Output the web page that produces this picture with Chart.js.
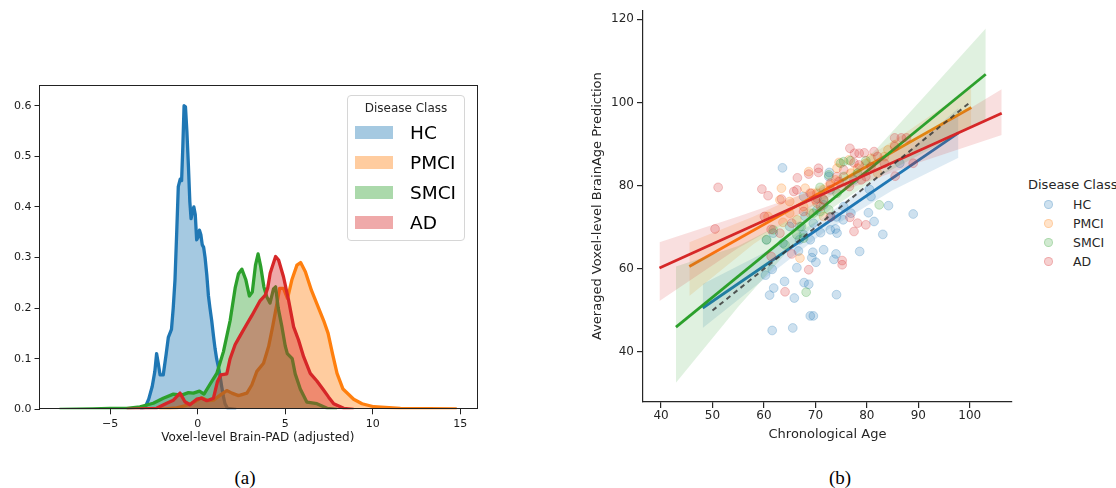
<!DOCTYPE html>
<html>
<head>
<meta charset="utf-8">
<script src="https://cdn.jsdelivr.net/npm/chart.js@4.4.1/dist/chart.umd.min.js"></script>
<style>
  body { margin: 0; background: #fff; }
  #page { position: relative; width: 1116px; height: 488px; overflow: hidden; background: #fff; font-family: 'DejaVu Sans', sans-serif; }
  canvas { position: absolute; }
  #kdeCanvas { left: 0; top: 0; }
  #ageCanvas { left: 580px; top: 0; }
  .caption { position: absolute; top: 467px; line-height: 22px; font-family: 'Liberation Serif', serif; font-size: 19px; color: #000; transform: translateX(-50%); }
  #kdeLegend { position: absolute; left: 347px; top: 95px; width: 118px; height: 146px; border: 1px solid #d6d6d6; border-radius: 4px; background: rgba(255,255,255,0.8); box-sizing: border-box; }
  #kdeLegend .title { position: absolute; left: 0; width: 100%; top: 4px; text-align: center; font-size: 12px; line-height: 16px; color: #262626; }
  #kdeLegend .row { position: absolute; left: 7px; height: 30px; line-height: 30px; font-size: 18.5px; color: #000; }
  #kdeLegend .patch { position: absolute; left: 0; top: 8px; width: 38px; height: 13px; }
  #kdeLegend .label { position: absolute; left: 55px; white-space: nowrap; }
  #ageLegend { position: absolute; left: 1028px; top: 176px; width: 100px; }
  #ageLegend .title { font-size: 13px; line-height: 18px; color: #262626; white-space: nowrap; }
  #ageLegend .row { position: absolute; left: 0; height: 19px; line-height: 19px; font-size: 12.5px; color: #262626; }
  #ageLegend .dot { position: absolute; left: 16px; top: 5px; width: 9px; height: 9px; border-radius: 50%; box-sizing: border-box; }
  #ageLegend .label { position: absolute; left: 45px; white-space: nowrap; }
</style>
</head>
<body>
<div id="page">
  <canvas id="kdeCanvas" width="490" height="449"></canvas>
  <canvas id="ageCanvas" width="440" height="446"></canvas>
  <div id="kdeLegend"><div class="title">Disease Class</div></div>
  <div id="ageLegend"><div class="title">Disease Class</div></div>
  <div class="caption" style="left:245px">(a)</div>
  <div class="caption" style="left:840px">(b)</div>
</div>
<script>
// classes and colours
const classNames = ['HC', 'PMCI', 'SMCI', 'AD'];
const classColors = ['#1f77b4', '#ff7f0e', '#2ca02c', '#d62728'];

// (a) density curves, [brain-PAD, density]
const hcCurve = [[-3.3,0],[-3.0,0.004],[-2.8,0.02],[-2.6,0.045],[-2.45,0.075],[-2.35,0.11],[-2.25,0.09],[-2.15,0.068],
  [-1.97,0.068],[-1.8,0.11],[-1.68,0.142],[-1.5,0.158],[-1.4,0.2],[-1.3,0.255],[-1.2,0.35],[-1.11,0.44],[-1.0,0.455],
  [-0.92,0.452],[-0.85,0.52],[-0.78,0.6],[-0.7,0.598],[-0.62,0.55],[-0.53,0.48],[-0.45,0.41],[-0.38,0.377],[-0.3,0.39],
  [-0.22,0.4],[-0.14,0.385],[-0.06,0.335],[0.02,0.34],[0.1,0.354],[0.18,0.345],[0.26,0.325],[0.34,0.32],[0.42,0.3],
  [0.52,0.265],[0.61,0.225],[0.7,0.2],[0.8,0.175],[0.9,0.145],[0.99,0.12],[1.08,0.1],[1.18,0.084],[1.28,0.065],
  [1.37,0.045],[1.47,0.025],[1.56,0.011],[1.7,0.002],[2.2,0]];
const pmciCurve = [[-2.2,0],[-1.2,0.003],[-0.53,0.009],[-0.06,0.017],[0.23,0.023],[0.61,0.017],[0.9,0.018],[1.28,0.028],
  [1.66,0.037],[1.95,0.032],[2.33,0.027],[2.81,0.032],[3.09,0.048],[3.38,0.075],[3.76,0.091],[4.05,0.124],[4.29,0.165],
  [4.48,0.2],[4.68,0.239],[4.9,0.239],[5.13,0.219],[5.38,0.256],[5.67,0.285],[5.88,0.29],[6.15,0.272],[6.5,0.235],
  [6.85,0.205],[7.2,0.175],[7.45,0.15],[7.7,0.11],[7.96,0.071],[8.3,0.04],[8.91,0.02],[9.39,0.011],[10.06,0.005],
  [11.58,0.002],[14.8,0.001]];
const smciCurve = [[-7.9,0],[-6,0.001],[-5,0.002],[-4.06,0.002],[-3.3,0.005],[-2.54,0.012],[-1.97,0.022],[-1.39,0.03],
  [-0.92,0.028],[-0.53,0.033],[-0.25,0.032],[0.1,0.036],[0.36,0.03],[0.71,0.05],[1.09,0.071],[1.47,0.114],[1.85,0.175],
  [2.14,0.24],[2.33,0.268],[2.52,0.277],[2.75,0.256],[2.95,0.224],[3.12,0.232],[3.3,0.285],[3.45,0.307],[3.6,0.282],
  [3.78,0.242],[3.95,0.222],[4.13,0.21],[4.33,0.238],[4.45,0.242],[4.6,0.2],[4.8,0.165],[5.0,0.125],[5.12,0.11],
  [5.4,0.1],[5.57,0.07],[5.86,0.04],[6.24,0.014],[6.81,0.011],[7.39,0.002],[7.96,0]];
const adCurve = [[-4.06,0],[-2.35,0.002],[-1.77,0.012],[-1.39,0.018],[-1.01,0.032],[-0.73,0.015],[-0.44,0.009],[-0.06,0.02],
  [0.23,0.022],[0.52,0.017],[0.9,0.022],[1.13,0.055],[1.32,0.068],[1.66,0.07],[1.85,0.1],[2.14,0.128],[2.42,0.145],
  [2.8,0.168],[3.09,0.185],[3.57,0.215],[3.85,0.225],[4.0,0.24],[4.14,0.269],[4.45,0.302],[4.62,0.295],[4.9,0.262],
  [5.19,0.216],[5.48,0.163],[5.76,0.137],[6.05,0.104],[6.43,0.071],[6.81,0.056],[7.19,0.038],[7.48,0.024],[7.77,0.011],
  [8.34,0.002],[8.91,0]];
const kdeCurves = [hcCurve, pmciCurve, smciCurve, adCurve];

// (b) scatter, [chronological age, predicted age]
const hcPoints = [[63.6,84.3],[72.7,83.2],[72.6,82.2],[80.5,79.1],[84.2,75.2],[89.0,73.2],[80.3,73.5],[81.4,71.4],[83.1,68.3],
  [78.6,64.2],[74.0,63.6],[73.6,62.3],[71.6,64.6],[69.5,64.0],[69.3,62.7],[70.1,61.6],[66.4,60.3],[64.0,57.0],[61.9,55.4],
  [61.1,53.7],[65.9,53.0],[67.8,56.7],[68.7,56.3],[74.1,53.8],[69.0,48.7],[69.6,48.7],[61.6,45.2],[65.6,45.8],[60.5,67.0],
  [60.3,58.5],[61.6,59.9],[61.8,68.6],[63.7,66.2],[66.7,64.3],[67.7,68.2],[69.0,67.0],[71.0,68.7],[72.9,69.4],[73.9,69.6],
  [75.4,71.8],[76.9,73.4],[75.5,75.0],[71.6,75.4],[70.3,74.2],[69.6,71.0],[67.0,70.2],[68.0,72.6],[66.9,67.0],[65.0,70.2],
  [74.2,68.6],[70.3,77.0],[67.7,77.4],[80.8,77.4],[86.4,85.4],[77.5,81.4],[72.9,79.0],[74.1,72.5],[73.0,72.5]];
const pmciPoints = [[63.4,79.4],[63.1,76.6],[65.0,76.2],[68.0,79.4],[68.7,83.4],[74.6,85.6],[76.5,86.2],[82.1,83.0],[79.8,85.4],
  [63.7,71.2],[67.7,75.0],[66.4,71.8],[67.0,62.6],[69.3,78.2],[71.6,79.0],[72.9,80.2],[73.9,81.4],[76.9,83.0],[78.2,84.2],
  [80.8,86.6],[84.1,88.6],[85.4,89.8],[83.4,87.0],[70.3,75.8],[71.6,72.6],[69.0,73.4],[65.0,73.4],[60.8,72.6],[70.3,78.2],
  [74.2,84.2]];
const smciPoints = [[70.9,79.6],[72.6,82.6],[75.5,85.8],[76.8,86.0],[79.8,86.0],[82.4,75.4],[68.2,54.4],[72.6,74.2],[70.9,73.8],
  [66.4,68.2],[67.3,70.2],[64.1,65.8],[60.5,67.0],[61.8,69.4],[69.6,73.4],[74.2,78.2],[75.5,82.2],[78.2,83.0],[71.6,76.6],
  [74.9,85.4],[67.7,67.4]];
const adPoints = [[51.1,79.6],[50.5,69.6],[59.6,79.2],[60.8,77.6],[66.5,81.9],[68.7,82.8],[70.6,84.2],[70.6,83.2],[76.7,89.0],
  [77.6,87.8],[78.5,87.8],[79.5,87.9],[81.4,88.2],[85.4,91.5],[86.7,91.5],[87.7,91.5],[89.0,85.4],[85.5,82.3],[77.5,85.5],
  [78.5,85.0],[75.5,83.8],[74.2,82.2],[65.8,78.6],[66.4,79.0],[63.4,76.8],[60.1,72.6],[61.4,69.5],[63.1,68.6],[65.4,71.0],
  [69.0,78.2],[71.6,76.6],[76.7,72.4],[78.2,71.0],[79.8,70.6],[77.5,69.0],[75.2,62.0],[75.2,61.0],[68.7,59.8],[65.4,63.6],
  [61.4,63.0],[64.1,54.5],[72.9,72.5],[71.0,75.0],[67.7,73.8],[80.8,84.6],[82.1,87.0],[83.4,85.4],[79.8,82.2],[85.4,89.4],
  [78.9,81.4],[76.6,79.8],[74.6,81.0],[72.9,80.6],[70.0,76.6]];
const scatterPoints = [hcPoints, pmciPoints, smciPoints, adPoints];

// regression lines, [age, prediction] at both ends
const fitLines = [
  [[48.1,50.6],[97.8,92.7]],
  [[45.5,60.6],[100.3,98.8]],
  [[42.9,46.0],[103.1,106.8]],
  [[39.7,60.2],[106.2,97.4]]
];
// confidence bands, [age, lower, upper]
const fitBands = [
  [[48.1,45.8,56.4],[60,57.5,63.9],[72,69.1,72.7],[85,78.9,84.9],[97.8,86.7,98.7]],
  [[45.5,53.5,66.4],[58,66.0,72.6],[73,78.3,81.3],[87,86.7,92.3],[100.3,94.0,103.6]],
  [[42.9,32.6,60.6],[55,50.9,65.5],[65,64.8,71.8],[73,74.4,78.4],[82,82.0,89.0],[92,88.6,102.6],[103.1,95.8,117.8]],
  [[39.7,52.3,66.4],[55,65.0,72.6],[74,78.1,80.7],[90,85.5,91.1],[106.2,92.2,103.2]]
];
const identityLine = [[50,50],[100,100]];

// tick labels
const kdeXTicks = [-5, 0, 5, 10, 15];
const kdeYTicks = [0, 0.1, 0.2, 0.3, 0.4, 0.5, 0.6];
const ageXTicks = [40, 50, 60, 70, 80, 90, 100];
const ageYTicks = [40, 60, 80, 100, 120];

function rgba(hex, a) {
    const n = parseInt(hex.slice(1), 16);
    return `rgba(${(n >> 16) & 255},${(n >> 8) & 255},${n & 255},${a})`;
}
const toXY = pts => pts.map(([x, y]) => ({ x, y }));

Chart.defaults.font.family = "'DejaVu Sans', sans-serif";
Chart.defaults.animation = false;

// full box around the density plot
const framePlugin = {
    id: 'frame',
    afterDatasetsDraw(chart) {
        const { ctx, chartArea: a } = chart;
        ctx.save();
        ctx.strokeStyle = '#222';
        ctx.lineWidth = 1;
        ctx.strokeRect(Math.round(a.left) - 0.5, Math.round(a.top) + 0.5,
            Math.round(a.right - a.left) + 1, Math.round(a.bottom - a.top) - 1);
        ctx.restore();
    }
};

// ---- (a) density plot ----
new Chart(document.getElementById('kdeCanvas'), {
    type: 'line',
    data: {
        datasets: classNames.map((name, i) => ({
            label: name,
            data: toXY(kdeCurves[i]),
            borderColor: classColors[i],
            backgroundColor: rgba(classColors[i], 0.4),
            borderWidth: 3.3,
            borderJoinStyle: 'round',
            pointRadius: 0,
            tension: 0,
            fill: 'origin',
            order: classNames.length - i
        }))
    },
    options: {
        responsive: false,
        layout: { padding: { top: 85, right: 14, left: 0, bottom: 0 } },
        plugins: { legend: { display: false }, tooltip: { enabled: false } },
        scales: {
            x: {
                type: 'linear',
                min: -9.04,
                max: 15.9,
                afterBuildTicks: axis => { axis.ticks = kdeXTicks.map(v => ({ value: v })); },
                afterFit: axis => { axis.height = 39.7; },
                grid: { drawOnChartArea: false, tickLength: 5, color: '#222' },
                border: { display: false },
                ticks: {
                    color: '#1a1a1a', font: { size: 11 }, padding: 3, maxRotation: 0,
                    callback: v => String(v).replace('-', '\u2212')
                },
                title: { display: true, text: 'Voxel-level Brain-PAD (adjusted)', color: '#1a1a1a', font: { size: 12 } }
            },
            y: {
                min: 0,
                max: 0.641,
                afterBuildTicks: axis => { axis.ticks = kdeYTicks.map(v => ({ value: v })); },
                afterFit: axis => { axis.width = 39.5; },
                grid: { drawOnChartArea: false, tickLength: 5, color: '#222' },
                border: { display: false },
                ticks: { color: '#1a1a1a', font: { size: 11 }, padding: 3, callback: v => v.toFixed(1) }
            }
        }
    },
    plugins: [framePlugin]
});

// ---- (b) regression plot ----
const ageDatasets = [];
classNames.forEach((name, i) => {
    const base = (classNames.length - i) * 10 + 10;
    const c = classColors[i];
    ageDatasets.push({
        label: name,
        data: toXY(scatterPoints[i]),
        showLine: false,
        pointRadius: 4.4,
        pointBorderWidth: 1,
        pointBackgroundColor: rgba(c, 0.22),
        pointBorderColor: rgba(c, 0.24),
        order: base + 3
    });
    ageDatasets.push({
        label: name + ' upper',
        data: fitBands[i].map(([x, lo, hi]) => ({ x, y: hi })),
        borderWidth: 0,
        pointRadius: 0,
        tension: 0,
        backgroundColor: rgba(c, 0.15),
        fill: '+1',
        order: base + 2
    });
    ageDatasets.push({
        label: name + ' lower',
        data: fitBands[i].map(([x, lo, hi]) => ({ x, y: lo })),
        borderWidth: 0,
        pointRadius: 0,
        tension: 0,
        fill: false,
        order: base + 2
    });
    ageDatasets.push({
        label: name + ' fit',
        data: toXY(fitLines[i]),
        borderColor: c,
        borderWidth: 2.8,
        pointRadius: 0,
        fill: false,
        order: base + 1
    });
});
ageDatasets.push({
    label: 'identity',
    data: toXY(identityLine),
    borderColor: 'rgba(50,50,50,0.8)',
    borderWidth: 2,
    borderDash: [5, 4],
    pointRadius: 0,
    fill: false,
    order: 1
});

new Chart(document.getElementById('ageCanvas'), {
    type: 'line',
    data: { datasets: ageDatasets },
    options: {
        responsive: false,
        layout: { padding: { top: 10, right: 8, left: 5.8, bottom: 0 } },
        plugins: { legend: { display: false }, tooltip: { enabled: false } },
        scales: {
            x: {
                type: 'linear',
                min: 36.5,
                max: 108.2,
                afterBuildTicks: axis => { axis.ticks = ageXTicks.map(v => ({ value: v })); },
                afterFit: axis => { axis.height = 44; },
                grid: { drawOnChartArea: false, tickLength: 6, color: '#262626', lineWidth: 1.2 },
                border: { display: true, color: '#262626', width: 1.2 },
                ticks: { color: '#262626', font: { size: 12 }, padding: 1, maxRotation: 0 },
                title: { display: true, text: 'Chronological Age', color: '#262626', font: { size: 13 } }
            },
            y: {
                min: 28.0,
                max: 122.2,
                afterBuildTicks: axis => { axis.ticks = ageYTicks.map(v => ({ value: v })); },
                afterFit: axis => { axis.width = 57.2; },
                grid: { drawOnChartArea: false, tickLength: 6, color: '#262626', lineWidth: 1.2 },
                border: { display: true, color: '#262626', width: 1.2 },
                ticks: { color: '#262626', font: { size: 12 }, padding: 3 },
                title: { display: true, text: 'Averaged Voxel-level BrainAge Prediction', color: '#262626', font: { size: 13 } }
            }
        }
    }
});

// ---- legends ----
const kdeLegend = document.getElementById('kdeLegend');
const ageLegend = document.getElementById('ageLegend');
classNames.forEach((name, i) => {
    const row = document.createElement('div');
    row.className = 'row';
    row.style.top = (22 + i * 30) + 'px';
    row.innerHTML = `<span class="patch" style="background:${rgba(classColors[i], 0.4)}"></span><span class="label">${name}</span>`;
    kdeLegend.appendChild(row);

    const row2 = document.createElement('div');
    row2.className = 'row';
    row2.style.top = (19 + i * 19.1) + 'px';
    row2.innerHTML = `<span class="dot" style="background:${rgba(classColors[i], 0.22)};border:1px solid ${rgba(classColors[i], 0.24)}"></span><span class="label">${name}</span>`;
    ageLegend.appendChild(row2);
});
</script>
</body>
</html>
